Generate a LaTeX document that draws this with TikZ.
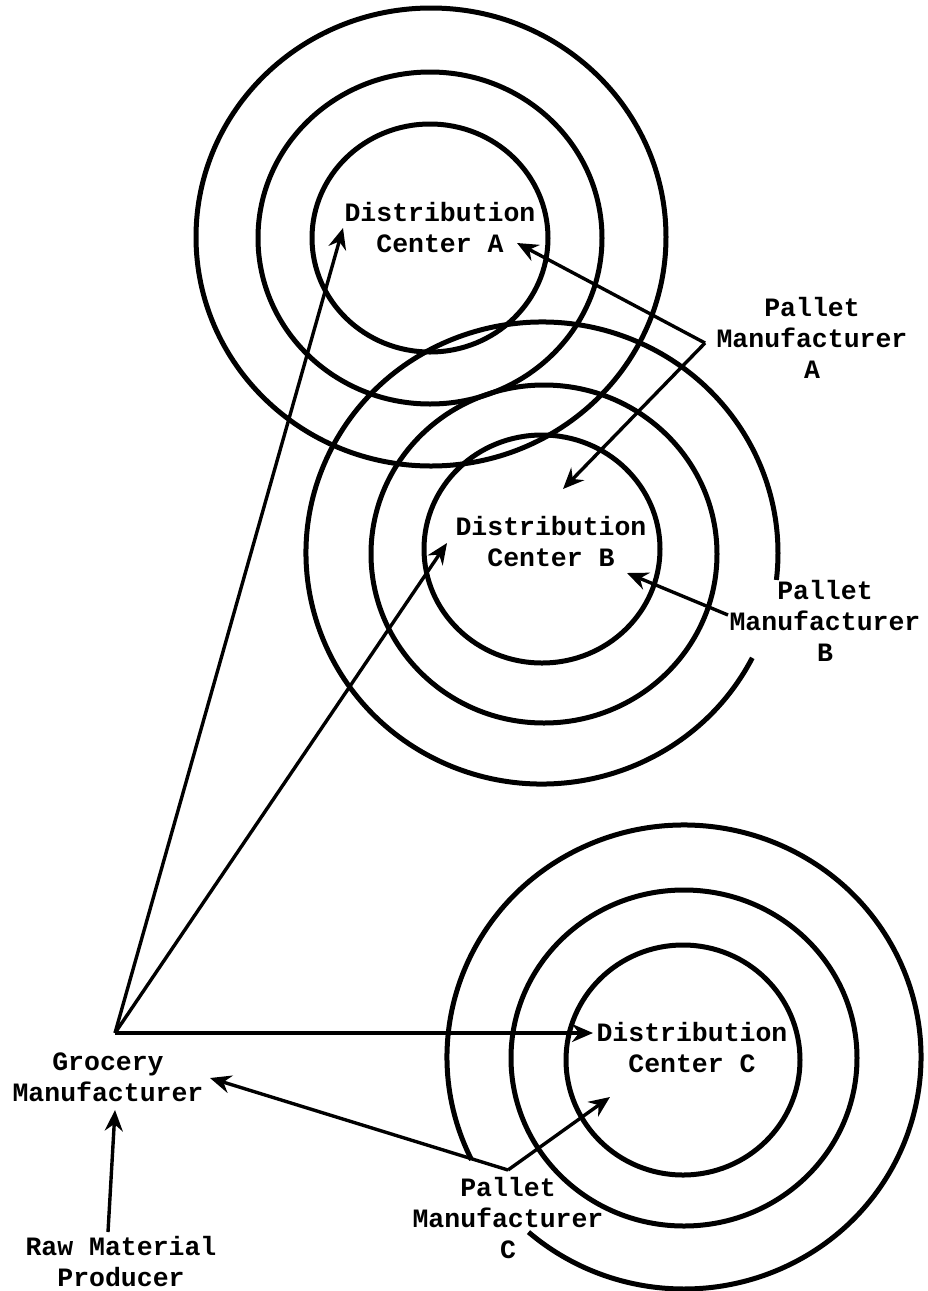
\documentclass[tikz,border=0pt]{standalone}
\usepackage{fontspec}
\setmonofont{Liberation Mono}
\usetikzlibrary{arrows.meta}
\begin{document}
\begin{tikzpicture}[x=1pt,y=-1pt,
  ring/.style={line width=5pt},
  flow/.style={line width=3.4pt,line join=round,
    -{Stealth[length=21pt,width=18pt,inset=7pt]}},
  tag/.style={font=\ttfamily\bfseries\fontsize{26.5}{31}\selectfont,
    align=center,inner sep=0pt}]
\useasboundingbox (0,0) rectangle (928,1291);

% service rings round distribution centre A
\draw[ring] (431,237) ellipse [x radius=235, y radius=229];
\draw[ring] (430,238) ellipse [x radius=172, y radius=166];
\draw[ring] (430,238) ellipse [x radius=118, y radius=114];

% service rings round distribution centre B (outer ring open on the right)
\draw[ring] (542,553) ++(27:236 and 231) arc [start angle=27, end angle=366.7, x radius=236, y radius=231];
\draw[ring] (544,554) ellipse [x radius=173, y radius=169];
\draw[ring] (542,549) ellipse [x radius=118, y radius=114];

% service rings round distribution centre C (outer ring open lower left)
\draw[ring] (684,1057) ++(153.7:237 and 232) arc [start angle=153.7, end angle=491, x radius=237, y radius=232];
\draw[ring] (684,1058) ellipse [x radius=173, y radius=168];
\draw[ring] (683,1060) ellipse [x radius=117, y radius=115];

% labels
\node[tag] (dca) at (440,228) {Distribution\\Center A};
\node[tag] (dcb) at (551,542) {Distribution\\Center B};
\node[tag] (dcc) at (692,1048) {Distribution\\Center C};
\node[tag] (pma) at (812,338) {Pallet\\Manufacturer\\A};
\node[tag] (pmb) at (825,621) {Pallet\\Manufacturer\\B};
\node[tag] (pmc) at (508,1218) {Pallet\\Manufacturer\\C};
\node[tag] (gm)  at (108,1077) {Grocery\\Manufacturer};
\node[tag] (rmp) at (121,1262) {Raw Material\\Producer};

% connector end points
\coordinate (gm-hub) at (115,1033);
\coordinate (pa-hub) at (705,343);
\coordinate (pb-end) at (728,615);
\coordinate (pc-hub) at (508,1170);
\coordinate (rm-end) at (108,1232);
\coordinate (dca-w) at (343,228);
\coordinate (dca-e) at (517,243);
\coordinate (dcb-w) at (447,543);
\coordinate (dcb-n) at (563,489);
\coordinate (dcb-e) at (627,573);
\coordinate (dcc-w) at (593,1033);
\coordinate (dcc-s) at (610,1097);
\coordinate (gm-e)  at (210,1078);
\coordinate (gm-s)  at (115,1110);

% flows from the grocery manufacturer
\draw[flow] (gm-hub) -- (dca-w);
\draw[flow] (gm-hub) -- (dcb-w);
\draw[flow] (gm-hub) -- (dcc-w);

% pallet flows
\draw[flow] (pa-hub) -- (dca-e);
\draw[flow] (pa-hub) -- (dcb-n);
\draw[flow] (pb-end) -- (dcb-e);
\draw[flow] (pc-hub) -- (gm-e);
\draw[flow] (pc-hub) -- (dcc-s);

% raw material supply
\draw[flow] (rm-end) -- (gm-s);
\end{tikzpicture}
\end{document}
